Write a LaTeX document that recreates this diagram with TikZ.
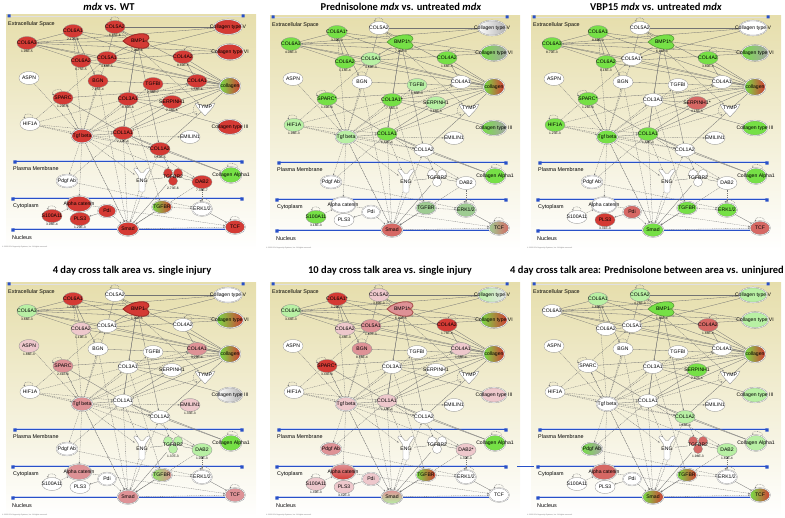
\documentclass[tikz,border=0pt]{standalone}
\usepackage{fontspec}
\newfontfamily\lbfont{Liberation Sans}
\newfontfamily\ttlfont{Carlito}
\usetikzlibrary{shapes.geometric, arrows.meta, calc}
\pgfdeclarelayer{panelbg}
\pgfdeclarelayer{edgelayer}
\pgfsetlayers{panelbg,edgelayer,main}
\definecolor{ipared}{RGB}{212,58,52}
\definecolor{ipamred}{RGB}{214,104,100}
\definecolor{ipamp}{RGB}{222,146,150}
\definecolor{ipapink}{RGB}{238,200,204}
\definecolor{ipagreen}{RGB}{118,224,70}
\definecolor{ipalgreen}{RGB}{184,240,164}
\definecolor{ipaggreen}{RGB}{158,204,146}
\definecolor{ipablue}{RGB}{40,80,200}
\definecolor{ipabg}{RGB}{230,222,172}
\tikzset{
  gene/.style={ellipse, draw=black!45, line width=.3pt, fill=white,
    minimum width=20pt, minimum height=13pt, inner sep=0pt},
  grp/.style={gene, double=white, double distance=.5pt},
  anchorpt/.style={ellipse, minimum width=#1, minimum height=15pt, inner sep=0pt},
  anchorpt/.default=20pt,
  shp/.style={draw=black!45, line width=.3pt, fill=white},
  lbl/.style={font=\lbfont\fontsize{5.1}{5.5}\selectfont, inner sep=0pt},
  val/.style={font=\lbfont\fontsize{3.3}{3.5}\selectfont, inner sep=0pt, anchor=north, yshift=-.5pt},
  comp/.style={font=\lbfont\fontsize{5.4}{6}\selectfont, anchor=west, inner sep=0pt},
  copyr/.style={font=\lbfont\fontsize{1.8}{2}\selectfont, anchor=west, inner sep=0pt, text=black!55},
  ttl/.style={font=\ttlfont\bfseries\fontsize{10.5}{12}\selectfont, inner sep=0pt},
  memb/.style={draw=ipablue, line width=1pt},
  ln/.style={draw=black!55, line width=.3pt},
  ar/.style={ln, -{Stealth[length=1.9pt,width=1.5pt]}},
  da/.style={ar, dash pattern=on 1pt off .8pt},
  % fills
  rd/.style={fill=ipared}, mr/.style={fill=ipamred}, mp/.style={fill=ipamp},
  pk/.style={fill=ipapink}, gr/.style={fill=ipagreen}, lg/.style={fill=ipalgreen},
  gg/.style={fill=ipaggreen},
  gR/.style={left color=ipagreen, right color=ipared},
  gP/.style={left color=ipagreen!80!white, right color=ipamp},
  gmR/.style={left color=ipaggreen, right color=ipamred},
  wG/.style={left color=white, right color=black!30},
  gG/.style={left color=ipagreen, right color=black!35},
  gw/.style={left color=ipalgreen, right color=black!10},
  pG/.style={top color=ipamp, bottom color=ipalgreen},
  pR/.style={top color=ipamp, bottom color=ipared},
  bmpR/.style={fill=ipared, draw=ipared!75!black, line width=.9pt},
  bmpM/.style={fill=ipamp, draw=ipamred!80!black, line width=.9pt},
  bmpG/.style={fill=ipagreen, draw=ipagreen!65!black, line width=.5pt}
}
% gene node: [style] name, position, text
\newcommand\gn[4][gene]{%
  \node[#1, f-#2/.try] (#2) at (#3) {};
  \node[lbl] at (#2) {#4\pgfkeysvalueof{/star/#2}};}
% self loop
\newcommand\lp[3]{\draw[da] (#1.#2) to[out=#2,in=#3,min distance=6pt] (#1.#3);}
% one network panel: prefix, x, y, fills, values
\newcommand\ipapanel[5]{%
\begin{scope}[shift={(#2,#3)}, name prefix=#1-, #4]
  \begin{pgfonlayer}{panelbg}
    \fill[top color=ipabg, bottom color=white] (6,15) rectangle (256,250);
    \draw[black!12, line width=.4pt] (9,16) -- (243,16);
    \fill[ipablue] (7.5,14.5) rectangle ++(3,3) (241.5,14.5) rectangle ++(3,3);
    \foreach \yy/\xa in {162/15, 199/13, 230/13} {
      \draw[ipablue!25, line width=.6pt] (\xa,\yy-1.6) -- (242,\yy-1.6);
      \draw[memb] (\xa,\yy) -- (242,\yy);
      \fill[ipablue] (\xa-1.6,\yy-1.6) rectangle ++(3.2,3.2)
                     (240.4,\yy-1.6) rectangle ++(3.2,3.2);
    }
  \end{pgfonlayer}
  \node[comp] (xs) at (8,24) {Extracellular Space};
  \node[comp] (pm) at (13,169) {Plasma Membrane};
  \node[comp] (cy) at (13,206) {Cytoplasm};
  \node[comp] (nu) at (12,238) {Nucleus};
  \node[copyr] (cr) at (2,247) {© 2000-2014 Ingenuity Systems, Inc. All rights reserved.};
  % extracellular space
  \gn{COL6A1}{73,31}{COL6A1}
  \gn{COL5A2}{115,27}{COL5A2}
  \gn[grp, minimum width=28pt, minimum height=15pt]{ColV}{228,27}{Collagen type V}
  \gn{COL6A3}{27,43}{COL6A3}
  \gn{COL6A2}{81,61}{COL6A2}
  \gn{COL5A1}{107,58}{COL5A1}
  \gn{COL4A2}{183,57}{COL4A2}
  \gn[grp, minimum width=27pt, minimum height=16pt]{ColVI}{230,52}{Collagen type VI}
  \gn{ASPN}{29,78}{ASPN}
  \gn{BGN}{98,81}{BGN}
  \gn{TGFBI}{153,84}{TGFBI}
  \gn{COL4A1}{197,81}{COL4A1}
  \gn[grp, minimum width=21pt, minimum height=17pt]{collagen}{230,86}{collagen}
  \gn{SPARC}{63,98}{SPARC}
  \gn{COL3A1}{128,99}{COL3A1}
  \gn{SERPINH1}{172,102}{SERPINH1}
  \gn{HIF1A}{30,124}{HIF1A}
  \gn[grp, minimum width=25pt, minimum height=15pt]{ColIII}{230,127}{Collagen type III}
  \gn[grp, minimum width=21pt, minimum height=14pt]{Tgfb}{82,136}{Tgf beta}
  \gn{COL1A1}{123,133}{COL1A1}
  \gn{EMILIN1}{190,137}{EMILIN1}
  \gn{COL1A2}{160,149}{COL1A2}
  % peptidase and growth factor shapes
  \node[anchorpt=26pt] (BMP1) at (137,41) {};
  \path[shp, f-BMP1/.try, shift={(137,41)}] (-14,0) .. controls (-6,-8) and (12,-10) .. (12,-3)
    .. controls (12,-1) and (9,0) .. (7,0) .. controls (9,0) and (12,1) .. (12,3)
    .. controls (12,10) and (-6,8) .. (-14,0) -- cycle;
  \node[lbl] at (138,41) {BMP1\pgfkeysvalueof{/star/BMP1}};
  \node[anchorpt=18pt] (TYMP) at (205,109) {};
  \path[shp, f-TYMP/.try, shift={(205,109)}] (-10,-6) -- (0,-3) -- (10,-6)
    .. controls (8,0) and (3,3) .. (0,7) .. controls (-3,3) and (-8,0) .. (-10,-6) -- cycle;
  \node[lbl] at (205,107) {TYMP};
  % plasma membrane
  \gn[grp, minimum width=21pt, minimum height=13pt]{PdgfAb}{67,181}{Pdgf Ab}
  \node[anchorpt=16pt, minimum height=24pt] (ENG) at (142,180) {};
  \path[shp, f-ENG/.try, shift={(142,180)}, rounded corners=1.5pt] (-9,-12) -- (-3,-3)
    -- (-3,12) -- (3,12) -- (3,-3) -- (9,-12) -- (5,-12) -- (0,-6) -- (-5,-12) -- cycle;
  \node[lbl] at (142,181) {ENG};
  \node[anchorpt=20pt, minimum height=18pt] (TGFBR2) at (173,177) {};
  \path[shp, f-TGFBR2/.try, shift={(173,177)}] (-5,-4) circle (4.5) (5,-4) circle (4.5) (0,4) circle (4.5);
  \node[lbl] at (173,177) {TGFBR2};
  \gn{DAB2}{202,182}{DAB2\pgfkeysvalueof{/star/DAB2x}}
  \gn[grp, minimum width=21pt, minimum height=16pt]{ColA1}{231,175}{Collagen Alpha1}
  % cytoplasm and nucleus
  \gn[grp, minimum width=25pt, minimum height=16pt]{Alphacat}{79,204}{Alpha catenin}
  \gn{S100A11}{52,216}{S100A11}
  \gn[grp, minimum width=18pt, minimum height=13pt]{Pdi}{107,211}{Pdi}
  \gn{PLS3}{80,219}{PLS3}
  \gn[grp]{TGFBR}{162,207}{TGFBR}
  \gn[grp, minimum height=14pt]{ERK}{202,209}{ERK1/2}
  \gn[grp, minimum width=21pt, minimum height=14pt]{Smad}{128,229}{Smad}
  \gn[grp, minimum height=14pt]{TCF}{235,227}{TCF}
  % values
  \foreach \n/\v in {#5} \node[val] at (\n.south) {\v};
  % relations
  \begin{pgfonlayer}{edgelayer}
    \foreach \a/\b in {collagen/COL6A1, collagen/COL6A2, collagen/COL6A3, collagen/COL5A1,
      collagen/COL5A2, collagen/COL4A1, collagen/COL4A2, collagen/COL3A1, collagen/COL1A1,
      collagen/COL1A2, collagen/SPARC, collagen/BGN, collagen/SERPINH1,
      ColV/COL5A1, ColV/COL5A2, ColV/COL6A3, ColVI/COL6A1, ColVI/COL6A2, ColVI/COL6A3,
      ColIII/COL3A1, ColA1/COL1A1, ColA1/COL1A2, COL6A3/COL6A1, COL6A3/COL6A2,
      COL6A1/COL6A2, COL5A1/COL5A2, COL6A3/COL5A1, COL1A1/COL1A2, COL4A1/COL4A2,
      BGN/COL6A1, SPARC/COL1A1, SERPINH1/COL1A1, SERPINH1/COL3A1, COL3A1/COL1A1,
      ENG/TGFBR2, TGFBR2/DAB2}
      \draw[ln] (\a) -- (\b);
    \foreach \a/\b in {BMP1/COL5A1, BMP1/COL1A1, BMP1/COL1A2, BMP1/COL3A1, BMP1/COL6A3,
      BMP1/COL5A2, Pdi/PLS3, Tgfb/COL1A1, TGFBR/Smad, TGFBR2/Smad, ERK/TCF}
      \draw[ar] (\a) -- (\b);
    \foreach \a/\b in {Tgfb/COL1A2, Tgfb/COL3A1, Tgfb/SPARC, Tgfb/BGN, Tgfb/COL4A1,
      Tgfb/COL5A1, Tgfb/COL6A1, Tgfb/SERPINH1, Tgfb/TGFBI, Tgfb/EMILIN1, Tgfb/Smad,
      Tgfb/ENG, Tgfb/Alphacat, Tgfb/DAB2, Tgfb/PdgfAb, HIF1A/COL1A1, HIF1A/Tgfb,
      HIF1A/COL4A1, HIF1A/COL5A1, HIF1A/COL1A2, ASPN/Tgfb, Smad/COL1A1, Smad/COL1A2,
      Smad/TCF, Alphacat/TCF, ENG/Smad, DAB2/Smad, DAB2/ERK, PdgfAb/COL1A1, PdgfAb/ERK,
      COL5A2/TYMP, TYMP/COL1A1, TGFBR/ERK, Pdi/Smad, COL1A2/TGFBR2, COL1A1/ENG,
      SPARC/Smad, BGN/Smad, COL3A1/TGFBR, COL1A1/DAB2, S100A11/Alphacat}
      \draw[da] (\a) -- (\b);
    \lp{COL5A2}{60}{120} \lp{COL4A2}{30}{80} \lp{SPARC}{100}{160} \lp{HIF1A}{70}{130}
    \lp{ColA1}{50}{110} \lp{TCF}{60}{120} \lp{S100A11}{60}{120} \lp{TYMP}{150}{210}
    \lp{BGN}{60}{120} \lp{ERK}{40}{100}
  \end{pgfonlayer}
\end{scope}}

\begin{document}
\begin{tikzpicture}[x=1pt, y=-1pt]
  \useasboundingbox (0,0) rectangle (785,518);
  \node[ttl] (t1) at (109,7) {\textit{mdx} vs. WT};
  \node[ttl] (t2) at (401,7) {Prednisolone \textit{mdx} vs. untreated \textit{mdx}};
  \node[ttl] (t3) at (656,7) {VBP15 \textit{mdx} vs. untreated \textit{mdx}};
  \node[ttl] (t4) at (132,271) {4 day cross talk area vs. single injury};
  \node[ttl] (t5) at (390,271) {10 day cross talk area vs. single injury};
  \node[ttl] (t6) at (647,271) {4 day cross talk area: Prednisolone between area vs. uninjured};

  \ipapanel{p1}{0}{0}{f-COL6A1/.style=rd, f-COL5A2/.style=rd, f-BMP1/.style=bmpR,
    f-ColV/.style=rd, f-COL6A3/.style=rd, f-COL6A2/.style=rd, f-COL5A1/.style=rd,
    f-COL4A2/.style=rd, f-ColVI/.style=rd, f-BGN/.style=rd, f-TGFBI/.style=rd,
    f-COL4A1/.style=rd, f-collagen/.style=gR, f-SPARC/.style=rd, f-COL3A1/.style=rd,
    f-SERPINH1/.style=rd, f-ColIII/.style=rd, f-Tgfb/.style=rd, f-COL1A1/.style=rd,
    f-COL1A2/.style=rd, f-TGFBR2/.style=rd, f-DAB2/.style=rd, f-ColA1/.style=gr,
    f-Alphacat/.style=rd, f-S100A11/.style=rd, f-Pdi/.style=rd, f-PLS3/.style=rd,
    f-TGFBR/.style=gR, f-Smad/.style=rd, f-TCF/.style=rd}
    {COL6A1/2.17E-6, COL5A2/6.85E-6, BMP1/7.96E-6, COL6A3/1.96E-5, COL6A2/8.75E-5,
     COL5A1/4.68E-5, COL4A2/8.89E-5, BGN/7.25E-4, TGFBI/2.38E-7, COL4A1/1.58E-6,
     SPARC/1.29E-5, COL3A1/8.80E-6, SERPINH1/2.38E-6, COL1A1/2.19E-4, COL1A2/5.59E-5,
     TGFBR2/2.73E-6, DAB2/7.38E-7, S100A11/3.98E-4, PLS3/1.29E-3}

  \ipapanel{p2}{264}{1}{f-COL6A1/.style=gr, f-BMP1/.style=bmpG, f-ColV/.style=wG,
    f-COL6A3/.style=gr, f-COL6A2/.style=gr, f-COL5A1/.style=lg, f-COL4A2/.style=gr,
    f-ColVI/.style=gG, f-TGFBI/.style=lg, f-collagen/.style=gR, f-SPARC/.style=gr,
    f-COL3A1/.style=gr, f-SERPINH1/.style=lg, f-HIF1A/.style=lg, f-ColIII/.style=gG,
    f-Tgfb/.style=lg, f-COL1A1/.style=gr, f-ColA1/.style=gr, f-S100A11/.style=gr,
    f-TGFBR/.style=gg, f-ERK/.style=gg, f-Smad/.style=mr, f-TCF/.style=gmR,
    /star/COL6A1/.initial=*, /star/BMP1/.initial=*, /star/SPARC/.initial=*,
    /star/COL3A1/.initial=*}
    {COL6A1/3.39E-3, BMP1/7.95E-3, COL6A3/4.08E-3, COL6A2/1.18E-4, COL5A1/4.59E-3,
     COL4A2/1.68E-3, TGFBI/1.83E-3, SPARC/1.49E-3, COL3A1/7.56E-3, SERPINH1/3.68E-3,
     HIF1A/1.98E-3, COL1A1/6.61E-4, S100A11/3.18E-3}

  \ipapanel{p3}{525}{1}{f-COL6A1/.style=gr, f-BMP1/.style=bmpG, f-COL6A3/.style=gr,
    f-COL6A2/.style=gr, f-COL4A2/.style=gr, f-ColVI/.style=gG, f-collagen/.style=gR,
    f-SPARC/.style=gr, f-SERPINH1/.style=mr, f-HIF1A/.style=gr, f-ColIII/.style=gr,
    f-Tgfb/.style=gr, f-COL1A1/.style=gr, f-ColA1/.style=gr, f-Pdi/.style=mr,
    f-PLS3/.style=rd, f-TGFBR/.style=gr, f-ERK/.style=gr, f-Smad/.style=gr,
    f-TCF/.style=mr, /star/BMP1/.initial=*, /star/SPARC/.initial=*,
    /star/SERPINH1/.initial=*, /star/COL5A1/.initial=*}
    {COL6A1/8.88E-3, BMP1/6.16E-3, COL6A3/8.70E-3, COL6A2/8.16E-3, COL4A2/3.80E-3,
     SPARC/1.26E-3, SERPINH1/4.15E-3, HIF1A/1.23E-3, COL1A1/1.68E-3, PLS3/3.31E-3}

  \ipapanel{p4}{0}{268}{f-COL6A1/.style=rd, f-BMP1/.style=bmpR, f-COL6A3/.style=lg,
    f-COL6A2/.style=pk, f-ColVI/.style=gR, f-ASPN/.style=pk, f-COL4A1/.style=mp,
    f-collagen/.style=gR, f-SPARC/.style=mp, f-ColIII/.style=wG, f-Tgfb/.style=mp,
    f-EMILIN1/.style=pk, f-TGFBR2/.style=lg, f-DAB2/.style=lg, f-ColA1/.style=gr,
    f-Alphacat/.style=mp, f-TGFBR/.style=gP, f-Smad/.style=mp, f-TCF/.style=mp}
    {COL6A1/1.45E-5, BMP1/1.99E-5, COL6A3/3.66E-3, COL6A2/1.19E-3, ASPN/1.86E-3,
     COL4A1/9.29E-4, SPARC/2.41E-3, EMILIN1/1.33E-3, TGFBR2/1.37E-3, DAB2/1.09E-3}

  \ipapanel{p5}{264}{268}{f-COL6A1/.style=rd, f-COL5A2/.style=pk, f-BMP1/.style=bmpM,
    f-ColV/.style=gw, f-COL6A3/.style=lg, f-COL6A2/.style=pk, f-COL5A1/.style=mp,
    f-COL4A2/.style=rd, f-ColVI/.style=gR, f-BGN/.style=mp, f-COL4A1/.style=pk,
    f-collagen/.style=gR, f-SPARC/.style=rd, f-ColIII/.style=pk, f-Tgfb/.style=pk,
    f-COL1A1/.style=pk, f-PdgfAb/.style=mp, f-DAB2/.style=pk, f-ColA1/.style=gr,
    f-Alphacat/.style=pR, f-S100A11/.style=pk, f-Pdi/.style=pk, f-PLS3/.style=pk,
    f-TGFBR/.style=gR, f-Smad/.style=pG, /star/COL6A1/.initial=*,
    /star/BMP1/.initial=*, /star/SPARC/.initial=*, /star/DAB2x/.initial=*}
    {COL6A1/1.28E-7, COL5A2/3.89E-3, BMP1/6.10E-5, COL6A3/3.44E-3, COL6A2/1.48E-3,
     COL5A1/1.47E-3, COL4A2/1.78E-4, BGN/8.78E-4, COL4A1/1.38E-4, SPARC/3.44E-3,
     COL1A1/1.15E-4, DAB2/1.32E-3, S100A11/1.49E-3, PLS3/3.42E-3}

  \ipapanel{p6}{525}{268}{f-COL6A1/.style=lg, f-COL5A2/.style=lg, f-BMP1/.style=bmpG,
    f-ColV/.style=lg, f-COL4A2/.style=mr, f-ColVI/.style=lg, f-collagen/.style=gR,
    f-SERPINH1/.style=gr, f-ColIII/.style=lg, f-COL1A2/.style=lg, f-PdgfAb/.style=gG,
    f-TGFBR2/.style=mr, f-DAB2/.style=lg, f-ColA1/.style=lg, f-Alphacat/.style=mr,
    f-TGFBR/.style=gR, f-Smad/.style=gR, f-TCF/.style=gR}
    {COL6A1/1.85E-4, COL5A2/4.76E-3, BMP1/1.85E-4, COL4A2/1.88E-4, SERPINH1/2.87E-4,
     COL1A2/1.48E-4, TGFBR2/1.98E-3, DAB2/1.82E-4}

  \draw[ipablue, line width=1pt] (517,467) -- (534,467);
\end{tikzpicture}
\end{document}
